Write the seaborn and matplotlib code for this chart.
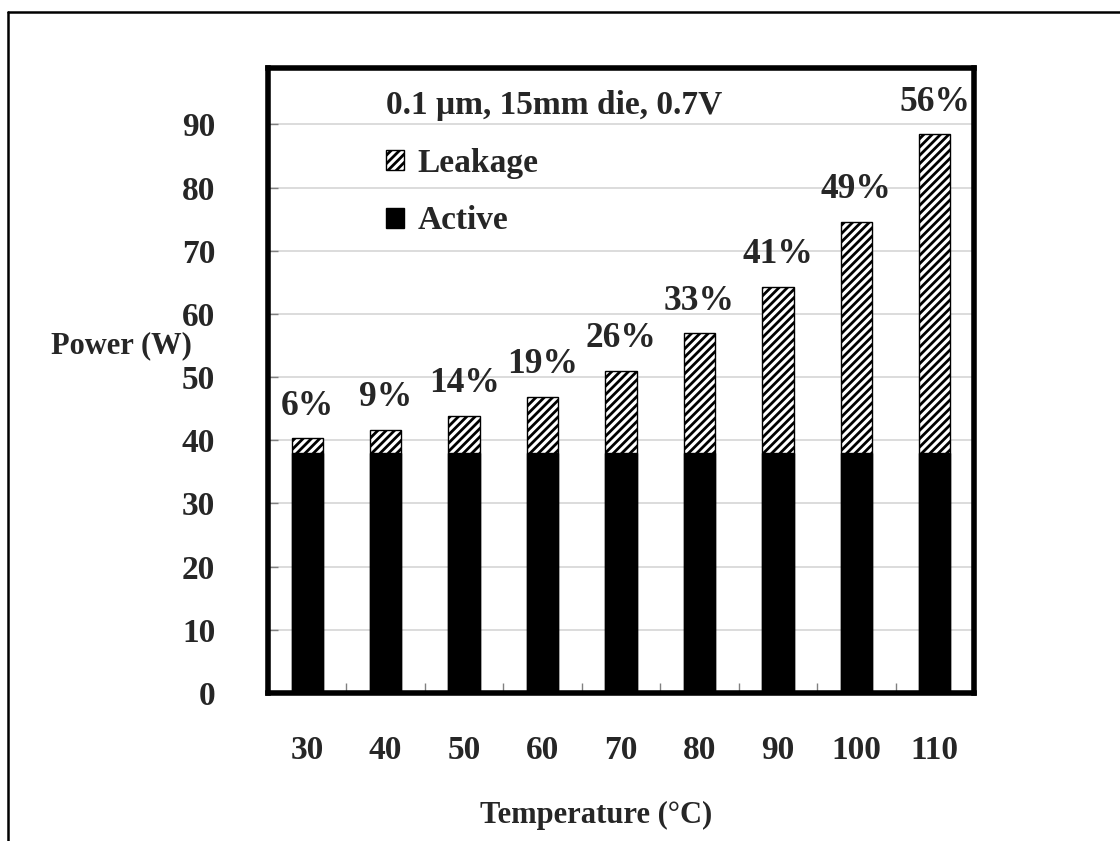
import numpy as np
import pandas as pd
import matplotlib
matplotlib.use("Agg")
import matplotlib.pyplot as plt
import seaborn as sns
from matplotlib.patches import Patch
from matplotlib.lines import Line2D
from matplotlib.ticker import FixedLocator

# ---- data ----
temperatures = ["30", "40", "50", "60", "70", "80", "90", "100", "110"]
active_power = [38, 38, 38, 38, 38, 38, 38, 38, 38]
leakage_power = [2.3, 3.7, 5.9, 8.9, 13.0, 18.9, 26.3, 36.6, 50.4]
leakage_pct_labels = ["6%", "9%", "14%", "19%", "26%", "33%", "41%", "49%", "56%"]
y_ticks = [0, 10, 20, 30, 40, 50, 60, 70, 80, 90]
legend_title = "0.1 \u03bcm, 15mm die, 0.7V"
series_names = ["Leakage", "Active"]

sns.set_theme(style="white")
plt.rcParams["font.family"] = ["Liberation Serif", "DejaVu Serif"]
plt.rcParams["font.weight"] = "bold"
plt.rcParams["axes.labelweight"] = "bold"
plt.rcParams["hatch.linewidth"] = 2.0

df = pd.DataFrame({"Temperature": temperatures,
                   "Active": active_power,
                   "Leakage": leakage_power})
df["Total"] = df["Active"] + df["Leakage"]

fig = plt.figure(figsize=(11.2, 8.41), dpi=100)
ax = fig.add_axes([268 / 1120, 1 - 693 / 841, 706 / 1120, 625.5 / 841])

sns.barplot(data=df, x="Temperature", y="Total", order=temperatures,
            color="white", saturation=1, width=0.4, hatch="////",
            edgecolor="black", linewidth=1, errorbar=None, ax=ax)
total_container = ax.containers[0]
sns.barplot(data=df, x="Temperature", y="Active", order=temperatures,
            color="black", saturation=1, width=0.4,
            edgecolor="black", linewidth=1, errorbar=None, ax=ax)

ax.bar_label(total_container, labels=leakage_pct_labels, padding=11,
             fontsize=25.5, fontweight="bold")

ax.set_ylim(0, 99)
ax.set_yticks(y_ticks)
ax.set_axisbelow(True)
ax.yaxis.grid(True, color="#d9d9d9", linewidth=1.3)
ax.xaxis.grid(False)

ax.tick_params(axis="y", which="major", left=True, direction="in", length=7,
               width=1, color="#808080", pad=38, labelsize=24)
ax.tick_params(axis="x", which="major", bottom=True, length=0, pad=30,
               labelsize=24)
ax.xaxis.set_minor_locator(FixedLocator(np.arange(0.5, 8, 1)))
ax.tick_params(axis="x", which="minor", bottom=True, direction="in",
               length=7, width=1, color="#808080")
for lab in ax.get_xticklabels() + ax.get_yticklabels():
    lab.set_fontweight("bold")

for s in ax.spines.values():
    s.set_visible(True)
    s.set_linewidth(4)
    s.set_color("black")
    s.set_zorder(5)

ax.set_xlabel("Temperature (\u00b0C)", fontsize=22, fontweight="bold")
ax.xaxis.set_label_coords(0.465, -0.195)
ax.xaxis.label.set_va("center")
ax.set_ylabel("Power (W)", fontsize=22, fontweight="bold", rotation=0)
ax.yaxis.set_label_coords(-0.208, 0.556)
ax.yaxis.label.set_va("center")
ax.yaxis.label.set_ha("center")

handles = [Patch(facecolor="white", edgecolor="black", hatch="////",
                 linewidth=1, label=series_names[0]),
           Patch(facecolor="black", edgecolor="black", label=series_names[1])]
ax.legend(handles=handles, title=legend_title, loc="upper left",
          bbox_to_anchor=(0.167, 0.964), frameon=False, fontsize=24,
          title_fontproperties={"weight": "bold", "size": 24},
          alignment="left", handlelength=0.55, handleheight=0.55,
          handletextpad=0.4, labelspacing=0.8, borderpad=0, borderaxespad=0)

# outer frame (top and left edges visible in the reference)
fig.add_artist(Line2D([7.5 / 1120, 1.0], [1 - 11.5 / 841, 1 - 11.5 / 841],
                      transform=fig.transFigure, color="black", linewidth=1.8))
fig.add_artist(Line2D([7.5 / 1120, 7.5 / 1120], [0.0, 1 - 11.5 / 841],
                      transform=fig.transFigure, color="black", linewidth=1.8))

fig.savefig("out.png", dpi=100)
